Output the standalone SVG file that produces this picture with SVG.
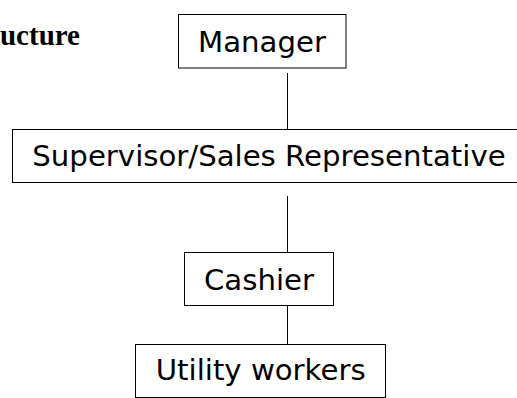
<svg xmlns="http://www.w3.org/2000/svg" width="517" height="398" viewBox="0 0 517 398">
<style>
.box{fill:#fff;stroke:#000;stroke-width:1}
.lbl{font-family:"DejaVu Sans",sans-serif;font-size:29.2px;fill:#000;text-anchor:middle}
.ttl{font-family:"Liberation Serif",serif;font-weight:bold;font-size:29px;fill:#000;text-anchor:end}
.conn{stroke:#000;stroke-width:1;fill:none}
</style>
<rect width="517" height="398" fill="#fff"/>
<text class="ttl" x="80" y="45">ucture</text>
<g id="connectors">
<line class="conn" x1="287.5" y1="73" x2="287.5" y2="129.5"/>
<line class="conn" x1="287.5" y1="196" x2="287.5" y2="252.5"/>
<line class="conn" x1="287.5" y1="305.5" x2="287.5" y2="344.5"/>
</g>
<g id="manager">
<rect class="box" x="178.5" y="14.5" width="167.5" height="53.5"/>
<text class="lbl" x="262" y="52">Manager</text>
</g>
<g id="supervisor">
<rect class="box" x="12.5" y="129.5" width="520" height="53"/>
<text class="lbl" x="269" y="166">Supervisor/Sales Representative</text>
</g>
<g id="cashier">
<rect class="box" x="184.5" y="252.5" width="149" height="53"/>
<text class="lbl" x="259" y="289.5">Cashier</text>
</g>
<g id="utility">
<rect class="box" x="135.5" y="344.5" width="250" height="53"/>
<text class="lbl" x="260.7" y="379.5">Utility workers</text>
</g>
</svg>
